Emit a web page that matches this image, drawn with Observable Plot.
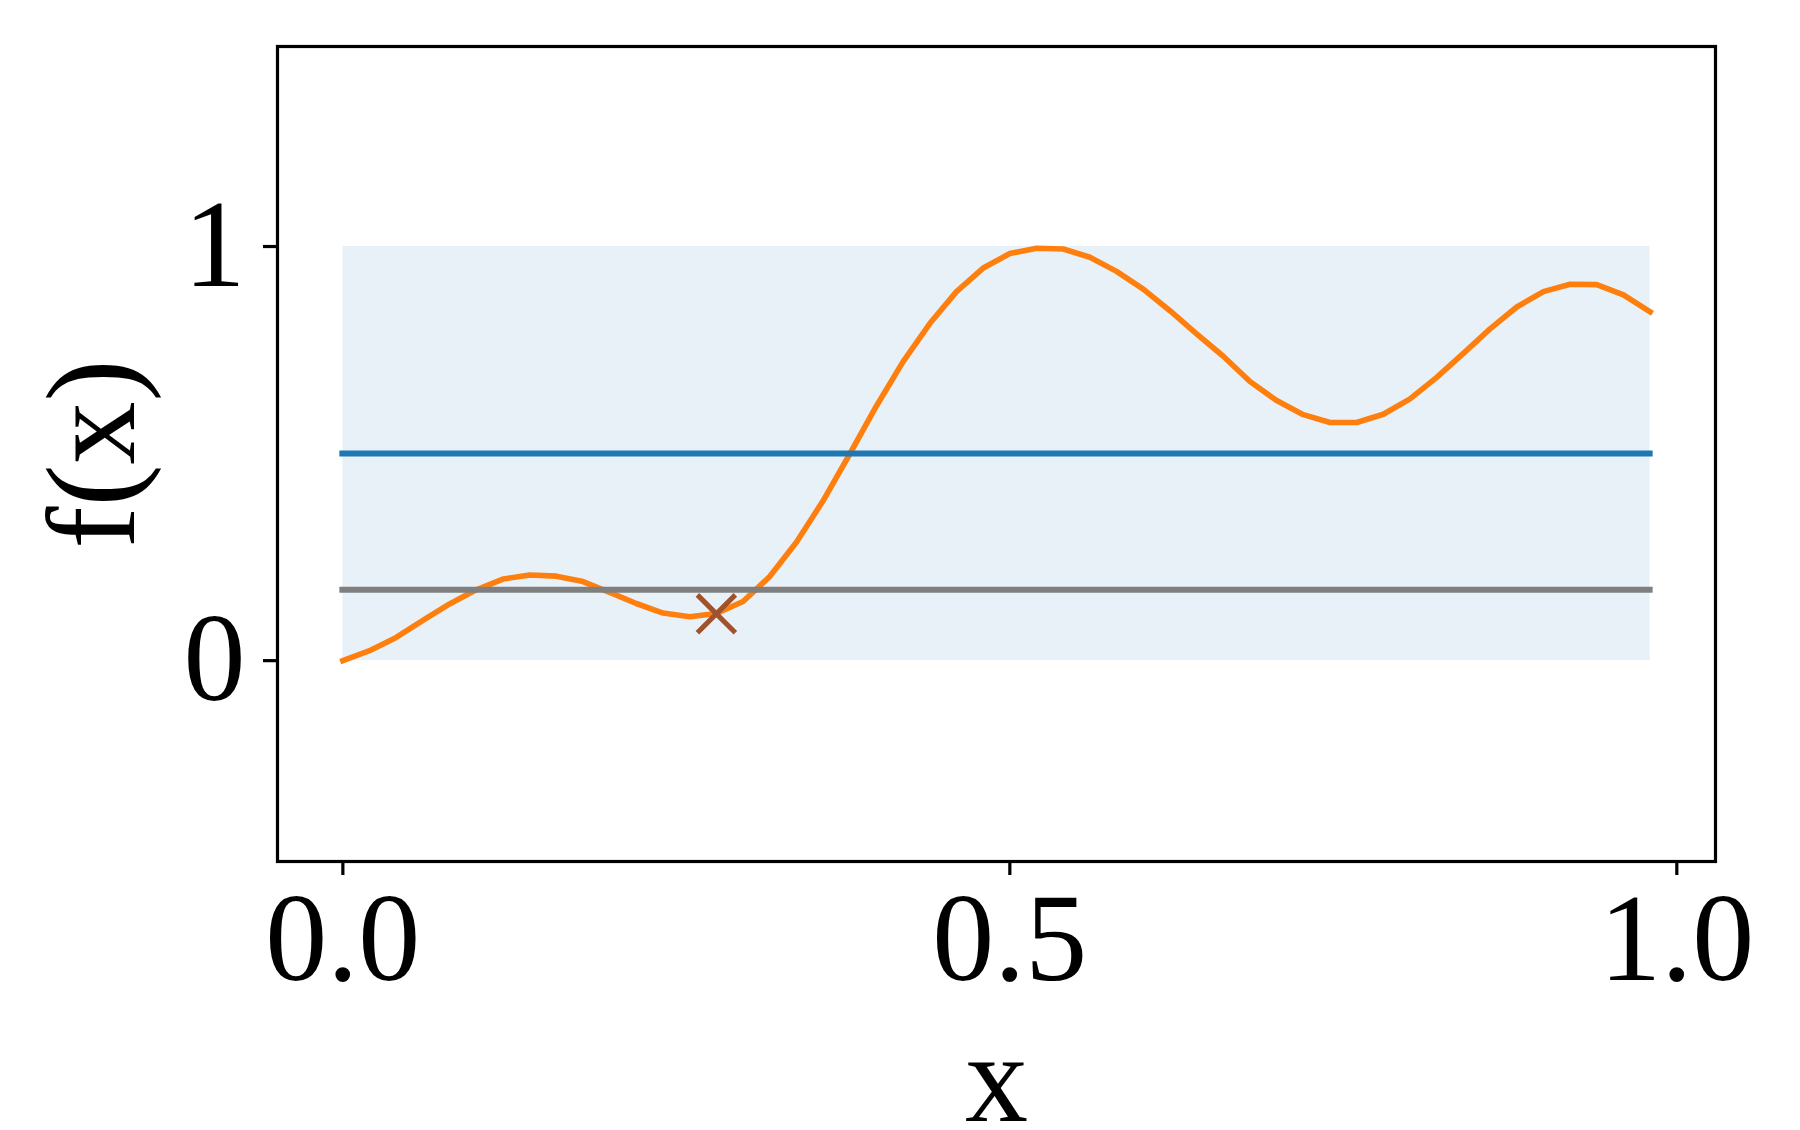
<!DOCTYPE html>
<html>
<head>
<meta charset="utf-8">
<script src="https://cdn.jsdelivr.net/npm/d3@7"></script>
<script src="https://cdn.jsdelivr.net/npm/@observablehq/plot@0.6"></script>
<style>
  html, body { margin: 0; padding: 0; background: white; }
  svg { display: block; }
</style>
</head>
<body>
<script>
// ---- data ----
const xGrid = [0.00, 0.02, 0.04, 0.06, 0.08, 0.10, 0.12, 0.14, 0.16, 0.18,
               0.20, 0.22, 0.24, 0.26, 0.28, 0.30, 0.32, 0.34, 0.36, 0.38,
               0.40, 0.42, 0.44, 0.46, 0.48, 0.50, 0.52, 0.54, 0.56, 0.58,
               0.60, 0.62, 0.64, 0.66, 0.68, 0.70, 0.72, 0.74, 0.76, 0.78,
               0.80, 0.82, 0.84, 0.86, 0.88, 0.90, 0.92, 0.94, 0.96, 0.98];
const fValues = [0.000, 0.024, 0.056, 0.097, 0.137, 0.171, 0.197, 0.207, 0.204, 0.191,
                 0.165, 0.138, 0.115, 0.106, 0.114, 0.143, 0.203, 0.286, 0.386, 0.499,
                 0.615, 0.722, 0.814, 0.891, 0.948, 0.983, 0.996, 0.994, 0.974, 0.940,
                 0.897, 0.845, 0.789, 0.735, 0.674, 0.628, 0.594, 0.575, 0.575, 0.595,
                 0.632, 0.684, 0.742, 0.801, 0.854, 0.891, 0.909, 0.908, 0.883, 0.842];
const bandX = [0, 0.98];
const bandY = [0, 1];
const upperLevel = [0.5];
const lowerLevel = [0.171];
const bestX = [0.28];
const bestY = [0.113];
const xTicks = [0, 0.5, 1.0];
const yTicks = [0, 1];
const xLabel = ["x"];
const yLabel = ["f(x)"];

// ---- tables built from the arrays ----
const curve = xGrid.map((x, i) => ({x, y: fValues[i]}));
const band = [{x1: bandX[0], x2: bandX[1], y1: bandY[0], y2: bandY[1]}];
const best = bestX.map((x, i) => ({x, y: bestY[i]}));

const FS = 124;
const chart = Plot.plot({
  width: 1800,
  height: 1130,
  marginLeft: 277,
  marginRight: 85,
  marginTop: 46,
  marginBottom: 269,
  x: {domain: [-0.049, 1.029]},
  y: {domain: [-0.485, 1.483]},
  style: {fontFamily: "'Liberation Serif', 'Times New Roman', serif", background: "white", color: "black"},
  marks: [
    Plot.rect(band, {x1: "x1", x2: "x2", y1: "y1", y2: "y2", fill: "#1f77b4", fillOpacity: 0.1}),
    Plot.line(curve, {x: "x", y: "y", stroke: "#ff7f0e", strokeWidth: 5.6, strokeLinecap: "square", strokeLinejoin: "round"}),
    Plot.ruleY(upperLevel, {x1: bandX[0], x2: bandX[1], stroke: "#1f77b4", strokeWidth: 6, strokeLinecap: "square"}),
    Plot.ruleY(lowerLevel, {x1: bandX[0], x2: bandX[1], stroke: "#7f7f7f", strokeWidth: 6, strokeLinecap: "square"}),
    Plot.dot(best, {x: "x", y: "y", symbol: "times", r: 17.3, stroke: "#a0522d", strokeWidth: 5}),
    Plot.frame({stroke: "black", strokeWidth: 3.2}),
    Plot.axisX({ticks: xTicks, tickFormat: d3.format(".1f"), tickSize: 14, tickPadding: 16, fontSize: FS, strokeWidth: 3.2, label: null}),
    Plot.axisY({ticks: yTicks, tickFormat: d3.format("d"), tickSize: 14, tickPadding: 18, fontSize: FS, strokeWidth: 3.2, label: null}),
    Plot.text(xLabel, {frameAnchor: "bottom", lineAnchor: "bottom", dy: 259, fontSize: 126}),
    Plot.text(yLabel, {frameAnchor: "left", textAnchor: "middle", rotate: -90, lineAnchor: "bottom", dx: -144, fontSize: 126})
  ]
});
document.body.appendChild(chart);
</script>
</body>
</html>
